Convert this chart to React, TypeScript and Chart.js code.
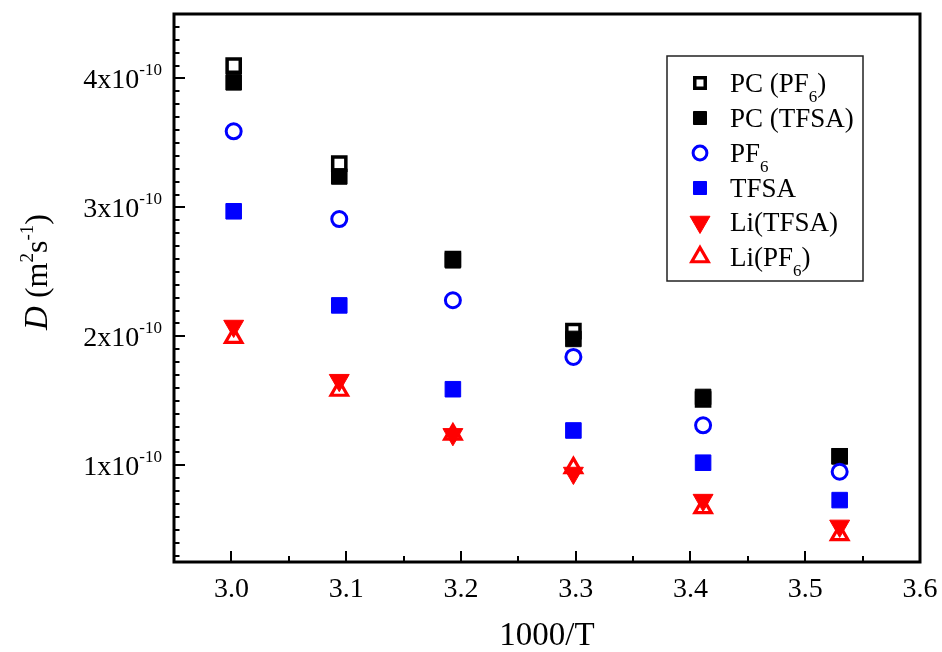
import React, { useEffect, useRef } from 'react';
import { Chart, registerables } from 'chart.js';
import { drawPoint } from 'chart.js/helpers';

Chart.register(...registerables);

// ---- data (1000/T and D in m^2 s^-1) ----
const xValues = [3.002, 3.094, 3.193, 3.298, 3.411, 3.53];
const pcPF6 = [4.1e-10, 3.34e-10, 2.6e-10, 2.04e-10, 1.51e-10, 1.07e-10];
const pcTFSA = [3.97e-10, 3.24e-10, 2.59e-10, 1.98e-10, 1.53e-10, 1.07e-10];
const pf6 = [3.59e-10, 2.91e-10, 2.28e-10, 1.84e-10, 1.31e-10, 0.95e-10];
const tfsa = [2.97e-10, 2.24e-10, 1.59e-10, 1.27e-10, 1.02e-10, 0.73e-10];
const liTFSA = [2.08e-10, 1.66e-10, 1.24e-10, 0.94e-10, 0.73e-10, 0.53e-10];
const liPF6 = [1.99e-10, 1.58e-10, 1.24e-10, 0.98e-10, 0.67e-10, 0.46e-10];

const seriesNames = ['PC (PF6)', 'PC (TFSA)', 'PF6', 'TFSA', 'Li(TFSA)', 'Li(PF6)'];
// drawing layer (lower = drawn on top)
const seriesOrder = [5, 4, 3, 2, 0, 1];
// legend label parts: [main, subscript, tail]
const legendParts: string[][] = [
  ['PC (PF', '6', ')'],
  ['PC (TFSA)', '', ''],
  ['PF', '6', ''],
  ['TFSA', '', ''],
  ['Li(TFSA)', '', ''],
  ['Li(PF', '6', ')'],
];

const xTickLabels = ['3.0', '3.1', '3.2', '3.3', '3.4', '3.5', '3.6'];
const xMinorTicks = [3.05, 3.15, 3.25, 3.35, 3.45, 3.55];
const yTickMantissas = ['1', '2', '3', '4'];
const yTickExponent = '-10';
const xTitle = '1000/T';

const seriesValues = [pcPF6, pcTFSA, pf6, tfsa, liTFSA, liPF6];

const FONT = '"Liberation Serif", "Times New Roman", serif';

const styles = [
  { pointStyle: 'rect', radius: 9.3, rotation: 0, bg: '#ffffff', border: '#000000', bw: 3.5, lr: 7.4 },
  { pointStyle: 'rect', radius: 11, rotation: 0, bg: '#000000', border: '#000000', bw: 1, lr: 9.2 },
  { pointStyle: 'circle', radius: 7.5, rotation: 0, bg: '#ffffff', border: '#0000ff', bw: 3, lr: 6.9 },
  { pointStyle: 'rect', radius: 11, rotation: 0, bg: '#0000ff', border: '#0000ff', bw: 1, lr: 9.2 },
  { pointStyle: 'triangle', radius: 11.5, rotation: 180, bg: '#ff0000', border: '#ff0000', bw: 1, lr: 11.5 },
  { pointStyle: 'triangle', radius: 9.5, rotation: 0, bg: '#ffffff', border: '#ff0000', bw: 3.2, lr: 9.5 },
];

type Part = { t: string; size: number; dy?: number; italic?: boolean };

function partFont(p: Part) {
  return `${p.italic ? 'italic ' : ''}${p.size}px ${FONT}`;
}

function drawRich(ctx: CanvasRenderingContext2D, parts: Part[], x: number, y: number, align: 'left' | 'right' | 'center') {
  let total = 0;
  const widths = parts.map((p) => {
    ctx.font = partFont(p);
    const w = ctx.measureText(p.t).width;
    total += w;
    return w;
  });
  let cx = align === 'left' ? x : align === 'right' ? x - total : x - total / 2;
  ctx.textAlign = 'left';
  ctx.textBaseline = 'alphabetic';
  parts.forEach((p, i) => {
    ctx.font = partFont(p);
    ctx.fillText(p.t, cx, y + (p.dy || 0));
    cx += widths[i];
  });
}

const axesPlugin = {
  id: 'customAxes',
  afterDraw(chart: any) {
    const { ctx, chartArea: a, scales } = chart;
    const xs = scales.x;
    const ys = scales.y;
    ctx.save();
    ctx.fillStyle = '#000';
    ctx.strokeStyle = '#000';

    // ticks (inward)
    ctx.lineWidth = 2;
    ctx.beginPath();
    xTickLabels.forEach((l) => {
      const px = Math.round(xs.getPixelForValue(parseFloat(l)));
      ctx.moveTo(px, a.bottom);
      ctx.lineTo(px, a.bottom - 11);
    });
    xMinorTicks.forEach((v) => {
      const px = Math.round(xs.getPixelForValue(v));
      ctx.moveTo(px, a.bottom);
      ctx.lineTo(px, a.bottom - 6);
    });
    for (let k = 3; k <= 44; k++) {
      const v = k * 1e-11;
      const py = Math.round(ys.getPixelForValue(v));
      const len = k % 10 === 0 ? 11 : 5.5;
      ctx.moveTo(a.left, py);
      ctx.lineTo(a.left + len, py);
    }
    ctx.stroke();

    // frame
    ctx.lineWidth = 3;
    ctx.strokeRect(a.left, a.top, a.right - a.left, a.bottom - a.top);

    // x tick labels
    ctx.font = `28px ${FONT}`;
    ctx.textAlign = 'center';
    ctx.textBaseline = 'alphabetic';
    xTickLabels.forEach((l) => {
      const px = xs.getPixelForValue(parseFloat(l));
      ctx.fillText(l, px, a.bottom + 35);
    });

    // y tick labels
    yTickMantissas.forEach((m) => {
      const v = parseFloat(m) * 1e-10;
      const py = ys.getPixelForValue(v);
      drawRich(ctx, [
        { t: m + 'x10', size: 28 },
        { t: yTickExponent, size: 17, dy: -13.5 },
      ], a.left - 12, py + 10, 'right');
    });

    // x title
    drawRich(ctx, [{ t: xTitle, size: 33 }], (a.left + a.right) / 2, 645, 'center');

    // y title
    ctx.save();
    ctx.translate(47, 272);
    ctx.rotate(-Math.PI / 2);
    drawRich(ctx, [
      { t: 'D', size: 33, italic: true },
      { t: ' (m', size: 32 },
      { t: '2', size: 19, dy: -14 },
      { t: 's', size: 32 },
      { t: '-1', size: 19, dy: -14 },
      { t: ')', size: 32 },
    ], 0, 0, 'center');
    ctx.restore();

    // legend box
    ctx.lineWidth = 1.5;
    ctx.strokeStyle = '#222';
    ctx.strokeRect(667, 56, 196, 225);
    const baselines = [92, 127, 162, 197, 231, 266];
    legendParts.forEach((lp, i) => {
      const s = styles[i];
      const cy = baselines[i] - 9;
      ctx.save();
      ctx.fillStyle = s.bg;
      ctx.strokeStyle = s.border;
      ctx.lineWidth = s.bw;
      drawPoint(ctx, { pointStyle: s.pointStyle as any, radius: s.lr, rotation: s.rotation, borderWidth: s.bw } as any, 700, cy);
      ctx.restore();
      ctx.fillStyle = '#000';
      const parts: Part[] = [{ t: lp[0], size: 27 }];
      if (lp[1]) parts.push({ t: lp[1], size: 17, dy: 10 });
      if (lp[2]) parts.push({ t: lp[2], size: 27 });
      drawRich(ctx, parts, 730, baselines[i], 'left');
    });

    ctx.restore();
  },
};

export default function App() {
  const ref = useRef<HTMLCanvasElement>(null);
  useEffect(() => {
    const canvas = ref.current!;
    const datasets = seriesNames.map((name, i) => ({
      label: name,
      data: xValues.map((xv, j) => ({ x: xv, y: seriesValues[i][j] })),
      pointStyle: styles[i].pointStyle as any,
      pointRadius: styles[i].radius,
      pointRotation: styles[i].rotation,
      pointBackgroundColor: styles[i].bg,
      pointBorderColor: styles[i].border,
      pointBorderWidth: styles[i].bw,
      showLine: false,
      order: seriesOrder[i],
    }));
    const chart = new Chart(canvas, {
      type: 'scatter',
      data: { datasets },
      options: {
        animation: false,
        responsive: false,
        events: [],
        layout: { padding: { left: 174, right: 22, top: 14, bottom: 90 } },
        plugins: { legend: { display: false }, tooltip: { enabled: false } },
        scales: {
          x: { type: 'linear', min: 2.95, max: 3.6, display: false },
          y: { type: 'linear', min: 0.25e-10, max: 4.5e-10, display: false },
        },
      },
      plugins: [axesPlugin],
    });
    return () => chart.destroy();
  }, []);
  return (
    <div style={{ position: 'absolute', left: 0, top: 0, width: 942, height: 652, background: '#fff' }}>
      <canvas ref={ref} width={942} height={652} style={{ display: 'block' }} />
    </div>
  );
}
